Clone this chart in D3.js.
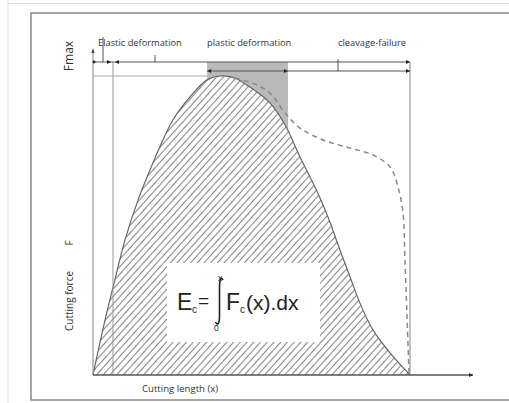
<!DOCTYPE html>
<html>
<head>
<meta charset="utf-8">
<script src="https://cdn.jsdelivr.net/npm/d3@7"></script>
<style>
  body { margin: 0; background: #fff; }
  svg { display: block; }
  text { font-family: "Open Sans", "Noto Sans", sans-serif; fill: #333; }
</style>
</head>
<body>
<div class="svgContainer"></div>
<script>
// cutting force curve, x = cutting length (% of total), y = force (% of Fmax)
const forceX = [0, 3.8, 6.9, 10.1, 14.2, 18.0, 21.1, 25.2, 30.6, 36.0, 40.1, 44.8, 49.5, 55.8, 60.6, 65.3, 69.4, 72.2, 74.8, 77.9, 81.1, 84.2, 88.3, 93.7, 100];
const forceY = [0, 18.4, 31.8, 45.2, 58.5, 68.6, 76.3, 85.3, 93.0, 98.7, 100, 99.3, 96.3, 91.0, 83.6, 72.9, 64.2, 57.8, 51.0, 41.8, 32.8, 24.1, 15.1, 7.4, 0];

// alternative (dashed) path after the peak
const dashX = [44.8, 51.1, 55.8, 60.6, 65.3, 72.6, 81.1, 88.3, 93.7, 96.2, 97.8, 98.4, 99.1, 99.7];
const dashY = [99.3, 97.3, 94.3, 87.6, 82.6, 78.6, 75.9, 73.6, 69.6, 62.9, 54.2, 38.5, 18.4, 0];

// phase boundaries along the cutting length
const phaseNames = ['Elastic deformation', 'plastic deformation', 'cleavage-failure'];
const phaseBounds = [0, 6.3, 36.0, 61.5, 100];

const W = 509, H = 403;
const svg = d3.select('.svgContainer').append('svg')
    .attr('width', W)
    .attr('height', H);

const x = d3.scaleLinear().domain([0, 100]).range([93, 410]);
const y = d3.scaleLinear().domain([0, 100]).range([375, 76]);

const defs = svg.append('defs');
const hatch = defs.append('pattern')
    .attr('id', 'hatch')
    .attr('patternUnits', 'userSpaceOnUse')
    .attr('width', 8).attr('height', 5)
    .attr('patternTransform', 'rotate(-48)');
hatch.append('rect').attr('width', 8).attr('height', 5).attr('fill', '#fff');
hatch.append('line')
    .attr('x1', 0).attr('x2', 8).attr('y1', 2.5).attr('y2', 2.5)
    .attr('stroke', '#888').attr('stroke-width', 1.1);

// page frames
svg.append('line').attr('x1', 8).attr('x2', 8).attr('y1', 0).attr('y2', H)
    .attr('stroke', '#ddd').attr('stroke-width', 1);
svg.append('line').attr('x1', 8).attr('x2', W).attr('y1', 3.5).attr('y2', 3.5)
    .attr('stroke', '#ddd').attr('stroke-width', 1);
svg.append('rect').attr('x', 31).attr('y', 13).attr('width', W).attr('height', 387)
    .attr('fill', 'none').attr('stroke', '#777').attr('stroke-width', 1.3);

const g = svg.append('g');

const topLine = 62, midLine = 71, fmaxLine = 76;

// grey zone above the curve in the plastic phase
g.append('rect')
    .attr('x', x(phaseBounds[2]))
    .attr('y', topLine)
    .attr('width', x(phaseBounds[3]) - x(phaseBounds[2]))
    .attr('height', y(0) - topLine)
    .attr('fill', '#b9b9b9');

const pts = forceX.map((d, i) => [d, forceY[i]]);
const area = d3.area()
    .x(d => x(d[0]))
    .y0(y(0))
    .y1(d => y(d[1]))
    .curve(d3.curveCatmullRom);
g.append('path')
    .datum(pts)
    .attr('d', area)
    .attr('fill', 'url(#hatch)');

const line = d3.line()
    .x(d => x(d[0]))
    .y(d => y(d[1]))
    .curve(d3.curveCatmullRom);
g.append('path')
    .datum(pts)
    .attr('d', line)
    .attr('fill', 'none')
    .attr('stroke', '#666')
    .attr('stroke-width', 1.2);

g.append('path')
    .datum(dashX.map((d, i) => [d, dashY[i]]))
    .attr('d', line)
    .attr('fill', 'none')
    .attr('stroke', '#888')
    .attr('stroke-width', 1.5)
    .attr('stroke-dasharray', '5,4');

// guide lines
const thin = (x1, y1, x2, y2, c, w) => g.append('line')
    .attr('x1', x1).attr('y1', y1).attr('x2', x2).attr('y2', y2)
    .attr('stroke', c).attr('stroke-width', w);

thin(x(0), fmaxLine, x(phaseBounds[2]), fmaxLine, '#aaa', 1);
thin(x(phaseBounds[1]), topLine, x(phaseBounds[1]), y(0), '#999', 1);
thin(x(100), topLine, x(100), y(0), '#999', 1.2);
thin(x(0), topLine, x(100), topLine, '#555', 1.1);
thin(x(phaseBounds[2]), midLine, x(100), midLine, '#555', 1.1);

// axes
thin(x(0), 50, x(0), y(0), '#999', 1.2);
thin(x(0), y(0), 473, y(0), '#555', 1.3);

function arrow(px, py, dir) {
    const s = 4;
    g.append('path')
        .attr('d', `M${px},${py} L${px - dir * s},${py - 2} L${px - dir * s},${py + 2} Z`)
        .attr('fill', '#222');
}
arrow(473, y(0), 1);
g.append('path').attr('d', `M${x(0)},48 L${x(0) - 1.6},53 L${x(0) + 1.6},53 Z`).attr('fill', '#444');
g.append('circle').attr('cx', x(0) + 1).attr('cy', topLine).attr('r', 1.4).attr('fill', '#222');
arrow(x(phaseBounds[1]) - 2, topLine, 1);
arrow(x(phaseBounds[1]) + 2, topLine, -1);
arrow(x(100), topLine, 1);
arrow(x(phaseBounds[2]), midLine, -1);
arrow(x(phaseBounds[3]), midLine, 1);
arrow(x(100), midLine, 1);

// phase labels and their leader ticks
const labelX = [98, 207, 338];
phaseNames.forEach((name, i) => {
    g.append('text')
        .attr('x', labelX[i]).attr('y', 46)
        .style('font-size', '9.3px')
        .style('fill', '#333')
        .text(name);
});
thin(103, 37, 103, topLine, '#555', 1);
thin(155, 55, 155, topLine, '#555', 1);
thin(338, 59, 338, midLine, '#555', 1);

// axis titles
g.append('text')
    .attr('transform', 'translate(73,56) rotate(-90)')
    .attr('text-anchor', 'middle')
    .style('font-size', '12px')
    .style('fill', '#333')
    .text('Fmax');
g.append('text')
    .attr('transform', 'translate(72.5,331) rotate(-90)')
    .style('font-size', '10px')
    .style('fill', '#333')
    .text('Cutting force');
g.append('text')
    .attr('transform', 'translate(72.5,243) rotate(-90)')
    .attr('text-anchor', 'middle')
    .style('font-size', '10px')
    .style('fill', '#333')
    .text('F');
g.append('text')
    .attr('x', 142).attr('y', 392)
    .style('font-size', '9.6px')
    .style('fill', '#333')
    .text('Cutting length (x)');

// energy formula
const fx = 167, fy = 263;
g.append('rect')
    .attr('x', fx).attr('y', fy).attr('width', 153).attr('height', 79)
    .attr('fill', '#fff');
const ff = '"Liberation Sans", Arial, sans-serif';
const formula = g.append('g').style('font-family', ff);
formula.append('text').attr('x', 177).attr('y', 310)
    .style('font-family', ff).style('font-size', '23px').style('fill', '#222').text('E');
formula.append('text').attr('x', 192).attr('y', 313)
    .style('font-family', ff).style('font-size', '10px').style('fill', '#222').text('c');
formula.append('text').attr('x', 198).attr('y', 307)
    .style('font-family', ff).style('font-size', '19px').style('fill', '#222').text('=');
formula.append('path')
    .attr('d', 'M223,280 C221,276 219.5,279 219.5,288 L219.5,316 C219.5,324 217.5,326 215.5,322')
    .attr('fill', 'none').attr('stroke', '#222').attr('stroke-width', 1.6);
formula.append('text').attr('x', 218).attr('y', 281)
    .style('font-family', ff).style('font-size', '8.5px').style('fill', '#222').text('x');
formula.append('text').attr('x', 214).attr('y', 331)
    .style('font-family', ff).style('font-size', '8.5px').style('fill', '#222').text('0');
formula.append('text').attr('x', 226).attr('y', 310)
    .style('font-family', ff).style('font-size', '23px').style('fill', '#222').text('F');
formula.append('text').attr('x', 240).attr('y', 313)
    .style('font-family', ff).style('font-size', '10px').style('fill', '#222').text('c');
formula.append('text').attr('x', 246).attr('y', 310)
    .style('font-family', ff).style('font-size', '21px').style('fill', '#222').text('(x).dx');
</script>
</body>
</html>
